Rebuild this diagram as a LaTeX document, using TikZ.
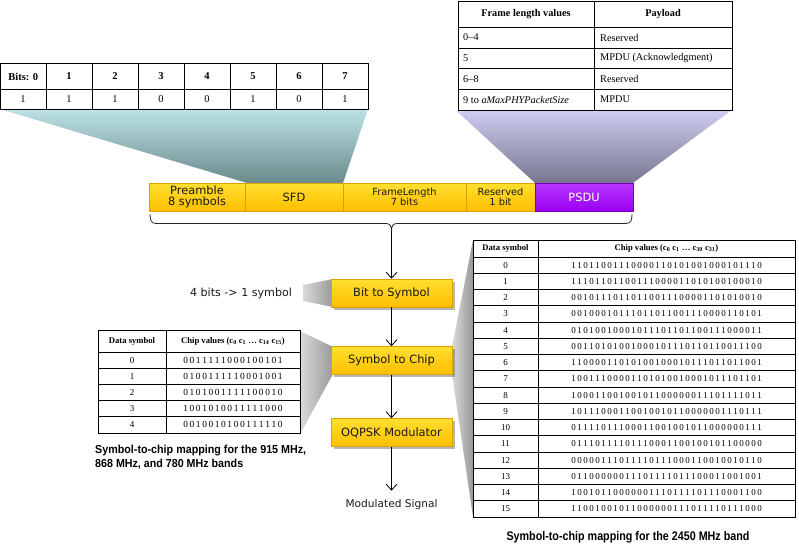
\documentclass[tikz,border=0pt]{standalone}
\usepackage{fontspec}
\usepackage{graphicx}
\setmainfont{Liberation Serif}
\newfontfamily\vfont{DejaVu Sans}
\newfontfamily\capfont{Liberation Sans}
\usetikzlibrary{arrows.meta,shadows}
\definecolor{goldT}{HTML}{FFE030}
\definecolor{goldB}{HTML}{FFBE00}
\definecolor{goldD}{HTML}{D9A200}
\definecolor{purT}{HTML}{B535FF}
\definecolor{purB}{HTML}{9A00F0}
\definecolor{purD}{HTML}{7400B8}
\definecolor{tealT}{HTML}{BCE2E6}
\definecolor{tealB}{HTML}{6A8A8B}
\definecolor{lavT}{HTML}{CECCF0}
\definecolor{lavB}{HTML}{76768F}
\definecolor{grayL}{HTML}{D9D9D9}
\definecolor{grayR}{HTML}{999999}
\newdimen\chipk
\def\chipsA#1{\ifx#1\relax\else#1\kern\chipk\relax\expandafter\chipsA\fi}
\newcommand\chips[2]{\chipk=#1\relax\expandafter\chipsA#2\relax\kern-\chipk}
\newcommand\fitw[2]{\resizebox{#1}{\height}{#2}}
\begin{document}
\begin{tikzpicture}[x=1pt,y=-1pt,
  gold/.style={draw=goldD, line width=0.6pt, top color=goldT, bottom color=goldB, inner sep=0pt, minimum height=28pt, text=black!90, align=center, font=\vfont\fontsize{11.4}{11}\selectfont},
  goldsm/.style={gold, font=\vfont\fontsize{9.8}{10.5}\selectfont},
  psdu/.style={gold, draw=purD, top color=purT, bottom color=purB, text=white},
  flow/.style={gold, minimum width=121pt, minimum height=28pt, drop shadow={shadow xshift=2.5pt, shadow yshift=-2.5pt, opacity=0.4, fill=black!70}},
  arr/.style={-{Straight Barb[length=6pt,width=11pt]}, line width=0.8pt},
  tline/.style={line width=0.9pt},
  bh/.style={inner sep=0pt, font=\bfseries\fontsize{10.5}{12}\selectfont},
  bv/.style={inner sep=0pt, font=\fontsize{10.5}{12}\selectfont},
  fh/.style={inner sep=0pt, font=\bfseries\fontsize{10.3}{12}\selectfont},
  fv/.style={inner sep=0pt, anchor=west, font=\fontsize{10.3}{12}\selectfont},
  ch/.style={inner sep=0pt, font=\bfseries\fontsize{8.6}{10}\selectfont},
  cv/.style={inner sep=0pt, font=\fontsize{9}{10}\selectfont},
  lbl/.style={inner sep=0pt, font=\vfont\fontsize{11.1}{13}\selectfont, text=black!90},
  capA/.style={inner sep=0pt, anchor=base west, font=\capfont\bfseries\fontsize{11.6}{14}\selectfont},
  capB/.style={inner sep=0pt, anchor=base, font=\capfont\bfseries\fontsize{12.5}{14}\selectfont},
]
\useasboundingbox (0,0) rectangle (799,544);
% funnels
\shade[top color=tealT, bottom color=tealB] (0,109) -- (368,109) -- (343,183) -- (247,183) -- cycle;
\shade[top color=lavT, bottom color=lavB] (456,110.5) -- (731,110.5) -- (633,183) -- (535,183) -- cycle;
\shade[left color=grayL, right color=grayR] (303,285) -- (333,279) -- (333,307) -- (303,301) -- cycle;
\shade[left color=grayL, right color=grayR] (300,331) -- (333,347) -- (333,374) -- (300,434) -- cycle;
\shade[left color=grayL, right color=grayR] (452,347) -- (473,240) -- (473,517) -- (452,374) -- cycle;

% bits table
\draw[tline] (0.5,63.5) rectangle (368,109);
\draw[tline] (0.5,89) -- (368,89);
\foreach \x in {46,92,...,322} \draw[tline] (\x,63.5) -- (\x,109);
\node[bh] (bh0) at (23.25,76.5) {Bits: 0};
\foreach \i in {1,...,7} \node[bh] (bh\i) at ({46*\i+23},76.5) {\i};
\foreach \v [count=\i from 0] in {1,1,1,0,0,1,0,1} \node[bv] (bv\i) at ({46*\i+23},99) {\v};

% frame length table
\draw[tline] (458,1.5) rectangle (732,110);
\foreach \y in {27,48,68.5,89} \draw[tline] (458,\y) -- (732,\y);
\draw[tline] (594,1.5) -- (594,110);
\node[fh] (fh1) at (526,14.5) {Frame length values};
\node[fh] (fh2) at (663,14.5) {Payload};
\node[fv] (fa1) at (463,37.5) {0--4};
\node[fv] (fb1) at (600,37.5) {Reserved};
\node[fv] (fa2) at (463,58.25) {5};
\node[fv] (fb2) at (600,58.25) {MPDU (Acknowledgment)};
\node[fv] (fa3) at (463,78.75) {6--8};
\node[fv] (fb3) at (600,78.75) {Reserved};
\node[fv] (fa4) at (463,99.5) {9 to \textit{aMaxPHYPacketSize}};
\node[fv] (fb4) at (600,99.5) {MPDU};

% small chip table
\draw[tline] (98,330) rectangle (300,433);
\draw[tline] (166,330) -- (166,433);
\foreach \k in {0,...,4} \draw[tline] (98,{352+16.2*\k}) -- (300,{352+16.2*\k});
\node[ch] (sh1) at (132,341) {Data symbol};
\node[ch] (sh2) at (233,341) {Chip values (c\textsubscript{0} c\textsubscript{1} \ldots{} c\textsubscript{14} c\textsubscript{15})};
\foreach \v [count=\k from 0] in {0011111000100101,0100111110001001,0101001111100010,1001010011111000,0010010100111110} {
  \node[cv] (sn\k) at (132,{352+16.2*(\k+0.5)}) {\k};
  \node[cv, font=\fontsize{9.4}{10}\selectfont] (sc\k) at (233,{352+16.2*(\k+0.5)}) {\chips{1.6pt}{\v}};
}

% big chip table
\draw[tline] (473,240) rectangle (795,517);
\draw[tline] (538,240) -- (538,517);
\foreach \k in {0,...,15} \draw[tline] (473,{257+16.25*\k}) -- (795,{257+16.25*\k});
\node[ch] (bh1) at (505.5,248.5) {Data symbol};
\node[ch] (bh2) at (666.5,248.5) {Chip values (c\textsubscript{0} c\textsubscript{1} \ldots{} c\textsubscript{30} c\textsubscript{31})};
\foreach \v [count=\k from 0] in {11011001110000110101001000101110,11101101100111000011010100100010,00101110110110011100001101010010,00100010111011011001110000110101,01010010001011101101100111000011,00110101001000101110110110011100,11000011010100100010111011011001,10011100001101010010001011101101,10001100100101100000011101111011,10111000110010010110000001110111,01111011100011001001011000000111,01110111101110001100100101100000,00000111011110111000110010010110,01100000011101111011100011001001,10010110000001110111101110001100,11001001011000000111011110111000} {
  \node[cv] (bn\k) at (505.5,{257+16.25*(\k+0.5)}) {\k};
  \node[cv] (bc\k) at (666.5,{257+16.25*(\k+0.5)}) {\chips{1.5pt}{\v}};
}

% packet bar
\node[gold, minimum width=96pt] (pre) at (197,197) {Preamble\\8 symbols};
\node[gold, minimum width=98pt] (sfd) at (294,197) {SFD};
\node[goldsm, minimum width=123pt] (fl) at (404.5,197) {FrameLength\\7 bits};
\node[goldsm, minimum width=69pt] (res) at (500.5,197) {Reserved\\1 bit};
\node[psdu, minimum width=98pt] (psdu) at (584,197) {PSDU};

% brace
\coordinate (bt) at (391.5,231);
\draw[line width=0.8pt, black!85] (150,214) .. controls (150,220) and (151,223.5) .. (156,223.5) -- (386,223.5) .. controls (390,223.5) and (391.5,226) .. (bt) .. controls (391.5,226) and (393,223.5) .. (397,223.5) -- (626,223.5) .. controls (631,223.5) and (632,220) .. (632,214);

% flow
\node[flow] (bts) at (391.5,293) {Bit to Symbol};
\node[flow] (stc) at (391.5,360.5) {Symbol to Chip};
\node[flow] (oq) at (391.5,432.5) {OQPSK Modulator};
\node[lbl] (bits) at (241,293) {4 bits -> 1 symbol};
\node[lbl, font=\vfont\fontsize{10.6}{12}\selectfont] (mod) at (391.5,505) {Modulated Signal};
\draw[arr] (bt) -- (bts.north);
\draw[arr] (bts) -- (stc);
\draw[arr] (stc) -- (oq);
\draw[arr, shorten >=9pt] (oq) -- (mod);

% captions
\node[capA] (c1) at (95,453) {\fitw{211pt}{Symbol-to-chip mapping for the 915 MHz,}};
\node[capA] (c2) at (95,467) {\fitw{148pt}{868 MHz, and 780 MHz bands}};
\node[capB] (c3) at (628,540) {\fitw{243pt}{Symbol-to-chip mapping for the 2450 MHz band}};
\end{tikzpicture}
\end{document}
